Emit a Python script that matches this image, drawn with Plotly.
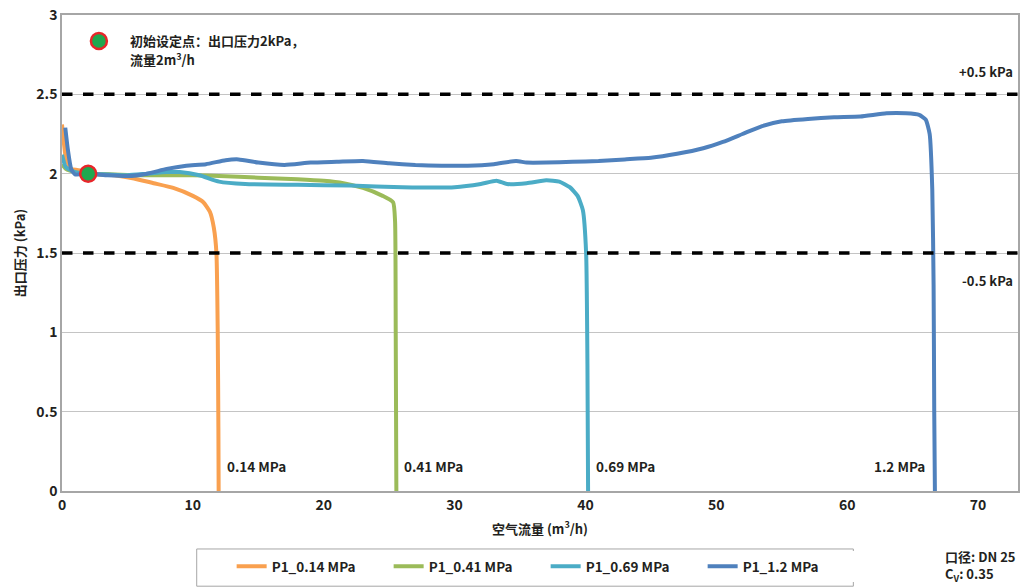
import plotly.graph_objects as go

# Outlet pressure (kPa) vs. air flow (m3/h) for four inlet pressures
x_014 = [0, 0.3, 0.7, 1.5, 2.5, 4, 5.5, 7, 8.5, 10, 10.8, 11.3, 11.6, 11.8, 11.9, 11.95, 11.97]
y_014 = [2.31, 2.1, 2.03, 2.02, 2.0, 1.99, 1.97, 1.94, 1.91, 1.86, 1.82, 1.76, 1.66, 1.5, 1.0, 0.4, 0]

x_041 = [0, 0.3, 1, 2, 4, 6, 8, 10, 12, 15, 18, 20, 21.5, 23, 24.5, 25.3, 25.45, 25.5, 25.55]
y_041 = [2.06, 2.03, 2.01, 2.0, 1.995, 1.99, 1.99, 1.99, 1.985, 1.975, 1.965, 1.955, 1.94, 1.91,
         1.86, 1.82, 1.7, 1.0, 0]

x_069 = [0, 0.3, 1, 2, 3.5, 5, 6.5, 8, 9, 10.5, 12, 14, 18, 22, 26, 30, 32, 33.2, 34, 35.5, 37,
         38, 38.8, 39.4, 39.8, 40.05, 40.15, 40.2]
y_069 = [2.12, 2.04, 2.01, 2.0, 1.995, 1.99, 2.0, 2.01, 2.01, 1.99, 1.95, 1.935, 1.93, 1.925, 1.915,
         1.915, 1.935, 1.955, 1.935, 1.94, 1.958, 1.95, 1.915, 1.86, 1.77, 1.5, 0.8, 0]

x_12 = [0.25, 0.45, 0.7, 1.0, 2, 3.5, 5, 6.5, 8, 9.5, 11, 12.5, 13.5, 15, 17, 19, 21, 23, 25, 27,
        29, 31, 33, 34.7, 35.5, 37, 39, 41, 43, 45, 47, 49, 50.5, 52, 53.5, 55, 57, 59, 61, 63,
        64.5, 65.5, 66.0, 66.3, 66.5, 66.6, 66.65, 66.7]
y_12 = [2.29, 2.15, 2.03, 1.995, 2.0, 1.99, 1.985, 2.0, 2.03, 2.05, 2.06, 2.085, 2.09, 2.07, 2.055,
        2.07, 2.075, 2.08, 2.065, 2.055, 2.05, 2.05, 2.06, 2.08, 2.07, 2.07, 2.075, 2.08, 2.09, 2.1,
        2.125, 2.16, 2.2, 2.25, 2.3, 2.33, 2.345, 2.355, 2.36, 2.38, 2.38, 2.37, 2.34, 2.25, 1.9,
        1.3, 0.5, 0]

series_names = ["P1_0.14 MPa", "P1_0.41 MPa", "P1_0.69 MPa", "P1_1.2 MPa"]
curve_labels = ["0.14 MPa", "0.41 MPa", "0.69 MPa", "1.2 MPa"]
colors = ["#F9A04F", "#9BBB59", "#4BACC6", "#4F81BD"]

set_point = (2, 2)          # initial set point: 2 m3/h, 2 kPa
limit_levels = [2.5, 1.5]   # +/-0.5 kPa tolerance band
limit_texts = ["+0.5 kPa", "-0.5 kPa"]

CJK = "Noto Sans CJK SC"
TXT = "#231F20"
DOT = dict(size=16, color="#1FA84F", line=dict(color="#E8262A", width=2.5))

fig = go.Figure()

for name, c, xv, yv in zip(series_names, colors, [x_014, x_041, x_069, x_12],
                           [y_014, y_041, y_069, y_12]):
    fig.add_trace(go.Scatter(
        x=xv, y=yv, mode="lines", name=name,
        line=dict(color=c, width=4, shape="spline", smoothing=0.5),
    ))

# Set point marker
fig.add_trace(go.Scatter(x=[set_point[0]], y=[set_point[1]], mode="markers",
                         showlegend=False, marker=DOT))

# Marker in the note at the top left
fig.add_trace(go.Scatter(x=[2.82], y=[2.836], mode="markers", showlegend=False, marker=DOT))

# Tolerance lines
for lv in limit_levels:
    fig.add_shape(type="line", xref="paper", yref="y", x0=0, x1=1, y0=lv, y1=lv,
                  line=dict(color="black", width=3.5, dash="dash"), layer="above")

# Legend frame
fig.add_shape(type="rect", xref="paper", yref="paper",
              x0=(197 - 62) / 958, x1=(855 - 62) / 958, y0=-0.2, y1=-0.1218,
              line=dict(color="#A6A6A6", width=1), fillcolor="rgba(0,0,0,0)")

annotations = []
for lv, t, yoff in zip(limit_levels, limit_texts, [0.145, -0.175]):
    annotations.append(dict(x=0.997, xref="paper", y=lv + yoff, yref="y", text=t,
                            showarrow=False, xanchor="right", yanchor="middle",
                            font=dict(family=CJK, size=13, color=TXT, weight="bold")))

# End-of-curve labels
label_pos = [(x_014[-1], "left"), (x_041[-1], "left"), (x_069[-1], "left"), (x_12[-1], "right")]
for (xv, anchor), t in zip(label_pos, curve_labels):
    annotations.append(dict(x=xv, y=0.16, xref="x", yref="y", text=t,
                            showarrow=False, xanchor=anchor, yanchor="middle",
                            xshift=6 if anchor == "left" else -8,
                            font=dict(family=CJK, size=13.5, color=TXT, weight="bold")))

# Set-point note
note_lines = ["初始设定点：出口压力2kPa，", "流量2m<sup>3</sup>/h"]
for txt, yv in zip(note_lines, [2.842, 2.72]):
    annotations.append(dict(x=5.05, y=yv, xref="x", yref="y", xanchor="left", yanchor="middle",
                            showarrow=False, text=txt,
                            font=dict(family=CJK, size=13, color=TXT, weight="bold")))

# Size / flow coefficient note
annotations.append(dict(x=1.0, xref="paper", y=-0.113, yref="paper", xanchor="right",
                        yanchor="top", align="left", showarrow=False,
                        text="口径: DN 25<br>C<sub>V</sub>: 0.35",
                        font=dict(family=CJK, size=13, color=TXT, weight="bold")))

fig.update_layout(
    width=1022, height=587,
    margin=dict(l=62, r=2, t=15, b=96),
    paper_bgcolor="white", plot_bgcolor="white",
    annotations=annotations,
    xaxis=dict(range=[0, 73.05], dtick=10, showgrid=False, zeroline=False,
               showline=True, linecolor="#A6A6A6", linewidth=1.5, mirror=True,
               ticks="", tickfont=dict(family=CJK, size=14, color=TXT, weight="bold"),
               title=dict(text="空气流量 (m<sup>3</sup>/h)", standoff=12,
                          font=dict(family=CJK, size=13, color=TXT, weight="bold"))),
    yaxis=dict(range=[0, 3], dtick=0.5, showgrid=True, gridcolor="#C4C4C4", gridwidth=1,
               zeroline=False, showline=True, linecolor="#A6A6A6", linewidth=1.5, mirror=True,
               ticks="", tickfont=dict(family=CJK, size=14, color=TXT, weight="bold"),
               tickformat="~g",
               title=dict(text="出口压力 (kPa)", standoff=8,
                          font=dict(family=CJK, size=13, color=TXT, weight="bold"))),
    legend=dict(orientation="h", x=(232 - 62) / 958, xanchor="left", y=-0.126, yanchor="top",
                borderwidth=0, entrywidth=112, itemwidth=30,
                font=dict(family=CJK, size=13.5, color=TXT, weight="bold")),
    showlegend=True,
)

fig.write_html("out.html")
